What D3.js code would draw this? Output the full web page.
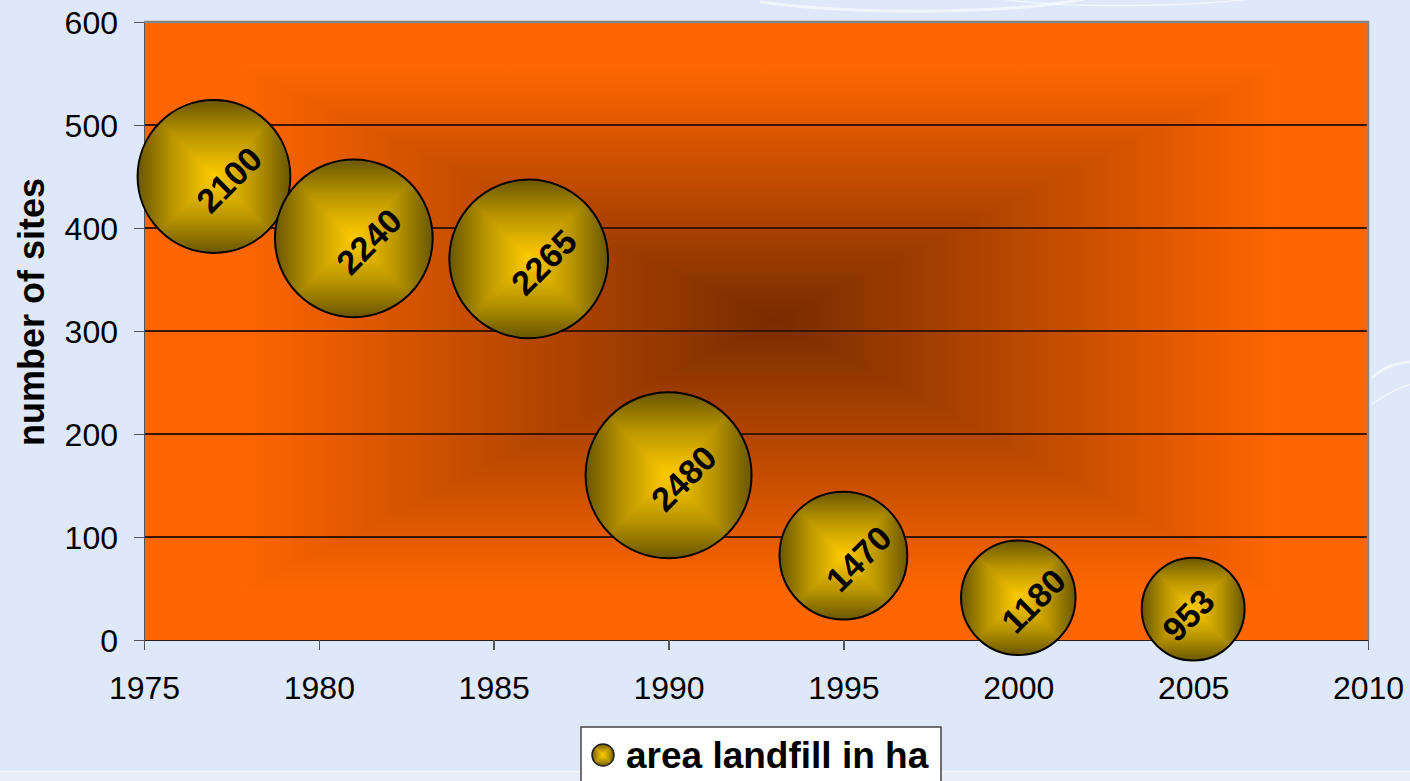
<!DOCTYPE html>
<meta charset="utf-8">
<style>
    body {
        margin: 0;
        background-color: #dfe8f8;
        overflow: hidden;
    }
    text {
        font-family: "Liberation Sans", Arial, sans-serif;
    }
    .axis path,
    .axis line {
        fill: none;
        stroke: #555;
        stroke-width: 1.5px;
        shape-rendering: crispEdges;
    }
    .axis text {
        font-size: 32px;
        fill: #000;
    }
    .grid line {
        stroke: #3a1600;
        stroke-width: 1.5px;
        shape-rendering: crispEdges;
    }
    .label {
        font-weight: bold;
        fill: #000;
    }
</style>
<svg width="1410" height="781"></svg>
<script src="https://d3js.org/d3.v7.min.js"></script>

<script>
    // data
    var years = [1977, 1981, 1986, 1990, 1995, 2000, 2005];
    var sites = [450, 390, 370, 160, 82, 41, 30];
    var area = [2100, 2240, 2265, 2480, 1470, 1180, 953];
    var yTicks = [0, 100, 200, 300, 400, 500, 600];
    var xTicks = [1975, 1980, 1985, 1990, 1995, 2000, 2005, 2010];
    var seriesName = "area landfill in ha";
    var yTitle = "number of sites";

    var svg = d3.select("svg"),
        margin = {top: 22, right: 42, bottom: 141, left: 144},
        width = +svg.attr("width") - margin.left - margin.right,
        height = +svg.attr("height") - margin.top - margin.bottom;

    var data = years.map(function(y, i) {
        return {year: y, sites: sites[i], area: area[i]};
    });

    var x = d3.scaleLinear().domain([1975, 2010]).range([0, width]);
    var y = d3.scaleLinear().domain([0, 600]).range([height, 0]);
    var r = d3.scaleSqrt().domain([0, d3.max(area)]).range([0, 83]);

    var defs = svg.append("defs");

    // four linear gradients in bounding-box units: edge -> centre
    function quadGrads(prefix, edge, mid, centre, midStop) {
        var dirs = {
            top: [0, 0, 0, 1],
            bottom: [0, 1, 0, 0],
            left: [0, 0, 1, 0],
            right: [1, 0, 0, 0]
        };
        Object.keys(dirs).forEach(function(k) {
            var d = dirs[k];
            var g = defs.append("linearGradient")
                .attr("id", prefix + "-" + k)
                .attr("x1", d[0]).attr("y1", d[1])
                .attr("x2", d[2]).attr("y2", d[3]);
            g.append("stop").attr("offset", 0).attr("stop-color", edge);
            g.append("stop").attr("offset", midStop).attr("stop-color", mid);
            g.append("stop").attr("offset", 1).attr("stop-color", centre);
        });
    }
    quadGrads("plot", "#ff6600", "#ff6600", "#782c00", 0.15);
    quadGrads("ball", "#6a5700", "#b89400", "#ffcc00", 0.45);

    // draws a "from centre" rectangular gradient as four triangles
    function quads(sel, x0, y0, x1, y1, cx, cy, prefix, sw) {
        var tris = [
            ["top", [[x0, y0], [x1, y0], [cx, cy]]],
            ["right", [[x1, y0], [x1, y1], [cx, cy]]],
            ["bottom", [[x1, y1], [x0, y1], [cx, cy]]],
            ["left", [[x0, y1], [x0, y0], [cx, cy]]]
        ];
        sel.selectAll("path.q")
            .data(tris)
            .enter().append("path")
            .attr("class", "q")
            .attr("d", function(t) { return "M" + t[1].join("L") + "Z"; })
            .attr("fill", function(t) { return "url(#" + prefix + "-" + t[0] + ")"; })
            .attr("stroke", function(t) { return "url(#" + prefix + "-" + t[0] + ")"; })
            .attr("stroke-width", sw);
    }

    // faint background swirls
    var deco = svg.append("g").attr("fill", "none").attr("stroke", "#ffffff").attr("stroke-opacity", 0.55);
    deco.append("path").attr("d", "M760,2 C850,14 1000,16 1090,-2").attr("stroke-width", 3);
    deco.append("path").attr("d", "M980,-4 C1060,10 1200,8 1290,-6").attr("stroke-width", 1.5);
    deco.append("path").attr("d", "M1372,378 C1385,366 1400,362 1412,362").attr("stroke-width", 3);
    deco.append("path").attr("d", "M1372,404 C1390,392 1402,386 1412,384").attr("stroke-width", 1.5);
    svg.append("rect").attr("x", 0).attr("y", 771).attr("width", 1410).attr("height", 10)
        .attr("fill", "#e8eef9");
    svg.append("line").attr("x1", 0).attr("x2", 1410).attr("y1", 771.5).attr("y2", 771.5)
        .attr("stroke", "#f4f7fc").attr("stroke-width", 1.5);

    var g = svg.append("g")
        .attr("transform", "translate(" + margin.left + "," + margin.top + ")");

    // plot area background
    var bg = g.append("g").attr("clip-path", "url(#plotclip)");
    defs.append("clipPath").attr("id", "plotclip")
        .append("rect").attr("width", width).attr("height", height);
    quads(bg, 0, 0, width, height, width * 0.516, height * 0.481, "plot", 2.5);

    g.append("g")
        .attr("class", "grid")
        .selectAll("line")
        .data(yTicks.slice(1))
        .enter().append("line")
        .attr("x1", 0).attr("x2", width)
        .attr("y1", function(d) { return y(d); })
        .attr("y2", function(d) { return y(d); });

    // plot frame top/right
    g.append("path")
        .attr("d", "M0,0H" + width + "V" + height)
        .attr("fill", "none")
        .attr("stroke", "#858585")
        .attr("stroke-width", 2.5);

    g.append("g")
        .attr("class", "y axis")
        .call(d3.axisLeft(y).tickValues(yTicks).tickSize(10).tickPadding(16).tickSizeOuter(0))
        .call(function(s) { s.selectAll("text").attr("dy", "0.36em"); });

    g.append("g")
        .attr("class", "x axis")
        .attr("transform", "translate(0," + height + ")")
        .call(d3.axisBottom(x).tickValues(xTicks).tickFormat(d3.format("d")).tickSize(10).tickPadding(26).tickSizeOuter(0))
        .call(function(s) { s.select(".domain").style("stroke", "#222"); });

    // y title
    svg.append("text")
        .attr("transform", "translate(44,312) rotate(-90)")
        .attr("text-anchor", "middle")
        .style("font-size", "36px")
        .style("font-weight", "bold")
        .text(yTitle);

    // bubbles
    defs.selectAll("clipPath.bc")
        .data(data)
        .enter().append("clipPath")
        .attr("class", "bc")
        .attr("id", function(d, i) { return "bc" + i; })
        .append("circle")
        .attr("r", function(d) { return r(d.area); });

    var ball = g.selectAll(".ball")
        .data(data)
        .enter().append("g")
        .attr("class", "ball")
        .attr("transform", function(d) { return "translate(" + x(d.year) + "," + y(d.sites) + ")"; });

    ball.each(function(d, i) {
        var rr = r(d.area);
        var q = d3.select(this).append("g").attr("clip-path", "url(#bc" + i + ")");
        quads(q, -rr, -rr, rr, rr, 0, 0, "ball", 1);
    });

    ball.append("circle")
        .attr("r", function(d) { return r(d.area); })
        .attr("fill", "none")
        .attr("stroke", "#000")
        .attr("stroke-width", 2);

    // labels sit a bit off-centre, like the original
    ball.append("text")
        .attr("class", "label")
        .attr("transform", function(d) {
            return String(d.area).length > 3 ? "translate(15,3) rotate(-45)" : "translate(-5,6) rotate(-45)";
        })
        .attr("text-anchor", "middle")
        .attr("dy", "0.36em")
        .style("font-size", "34px")
        .text(function(d) { return d.area; });

    // legend
    var lg = svg.append("g").attr("transform", "translate(581,727)");
    lg.append("rect")
        .attr("width", 360).attr("height", 70)
        .attr("fill", "#fff")
        .attr("stroke", "#444")
        .attr("stroke-width", 1.5);
    var mk = lg.append("g").attr("transform", "translate(22,28)");
    mk.append("clipPath").attr("id", "lgc").append("circle").attr("r", 11);
    var mq = mk.append("g").attr("clip-path", "url(#lgc)");
    quads(mq, -11, -11, 11, 11, 0, 0, "ball", 1);
    mk.append("circle").attr("r", 11).attr("fill", "none").attr("stroke", "#222").attr("stroke-width", 1.5);
    lg.append("text")
        .attr("x", 45).attr("y", 41)
        .style("font-size", "37px")
        .style("font-weight", "bold")
        .text(seriesName);
</script>
